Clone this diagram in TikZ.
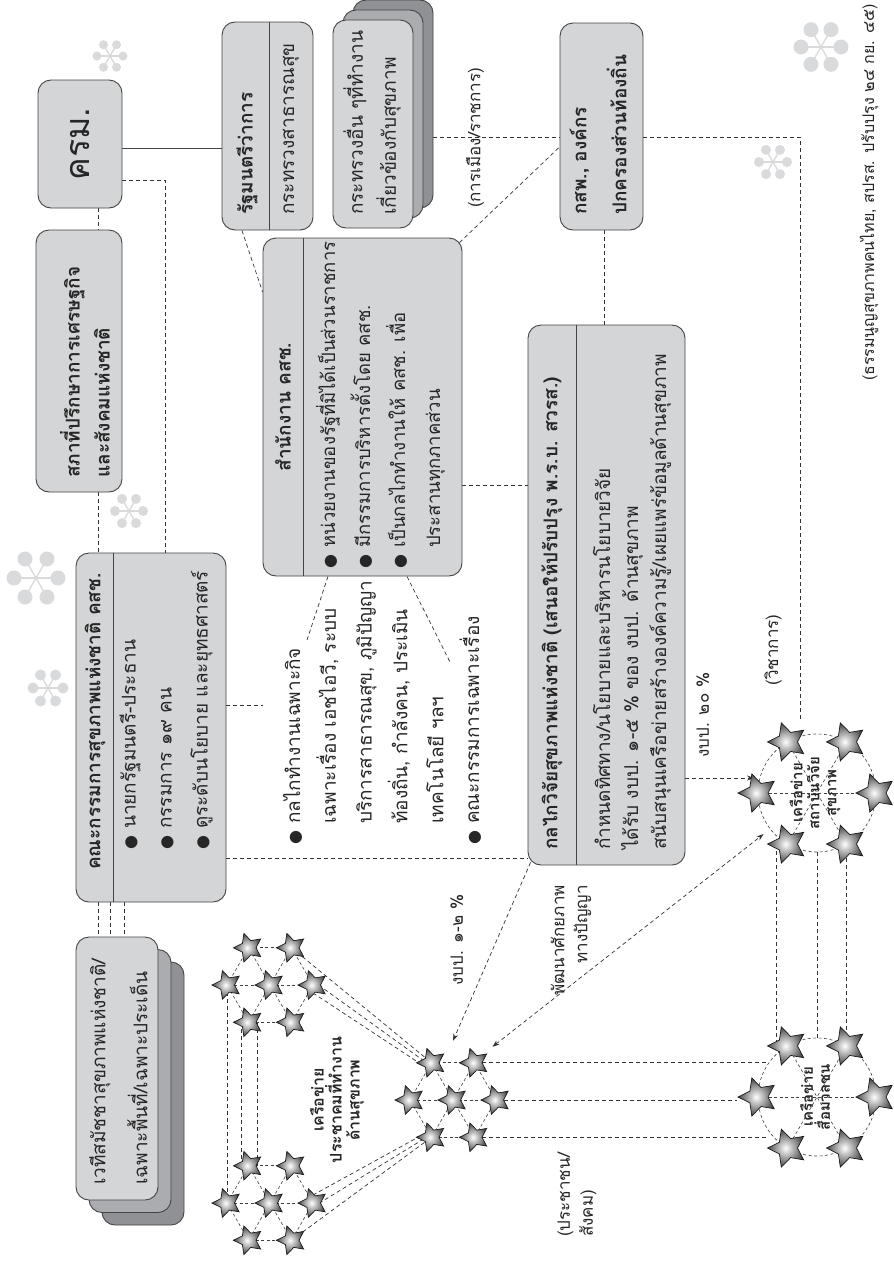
\documentclass[tikz,border=0pt]{standalone}
\usepackage{fontspec}
\setmainfont{Loma}[Script=Thai]
\newfontfamily\dejavu{DejaVu Sans}
\usetikzlibrary{shapes.geometric,arrows.meta,calc,backgrounds}
\definecolor{boxgray}{HTML}{D4D5D7}
\definecolor{shadeA}{HTML}{ABACB0}
\definecolor{shadeB}{HTML}{909195}
\definecolor{deco}{HTML}{D9DADC}
\definecolor{ink}{HTML}{444444}
\newcommand\bul{\makebox[21pt][l]{\dejavu\fontsize{16}{16}\selectfont ●}}
\newcommand\ind{\hspace*{21pt}}
\begin{document}
\begin{tikzpicture}[x=1pt,y=-1pt,
  box/.style={rounded corners=13pt, draw=ink, line width=0.9pt, fill=boxgray, rotate=90, inner sep=0pt},
  txt/.style={rotate=90, inner sep=0pt, text=black!85, font=\fontsize{19}{35}\selectfont},
  bld/.style={txt, font=\bfseries\fontsize{19}{35}\selectfont},
  dsh/.style={draw=black!80, line width=0.7pt, dash pattern=on 4pt off 3pt},
  netl/.style={draw=black!75, line width=0.6pt, dash pattern=on 3pt off 2.5pt},
  arr/.style={-{Stealth[length=7pt,width=5pt]}},
  darr/.style={{Stealth[length=7pt,width=5pt]}-{Stealth[length=7pt,width=5pt]}},
  starS/.style={star, star points=5, star point ratio=2.0, minimum size=30pt, inner sep=0pt, draw=black!90, line width=0.7pt, rotate=90, inner color=white, outer color=black!72},
  starL/.style={starS, minimum size=40pt},
  sepl/.style={draw=ink, line width=0.8pt},
]
\begin{scope}[on background layer]
\fill[white] (0,0) rectangle (894,1261);
\end{scope}
\useasboundingbox (0,0) rectangle (894,1261);

% decorative asterisks
\foreach \cx/\cy/\ar/\dr in {110/56/13/4.5, 36/578/22/7.5, 48/688/15/5.5, 129/511/14/5, 821/47/20/7.5, 773/162/14/5}{
  \foreach \ang in {0,60,...,300}{
    \draw[deco, line width=1.3pt] (\cx,\cy) -- ++(\ang:\ar);
    \fill[deco] (\cx,\cy) ++(\ang:\ar) circle[radius=\dr pt];
  }
}

% boxes
\node[box, minimum width=128pt, minimum height=84pt, text=black!85, font=\fontsize{34}{40}\selectfont] (krm) at (80,144) {ครม.};

\node[box, minimum width=262pt, minimum height=86pt] (sapha) at (79,361) {};
\node[bld, anchor=west, align=left, font=\bfseries\fontsize{19}{30}\selectfont] (saphat) at (85,478) {สภาที่ปรึกษาการเศรษฐกิจ\\และสังคมแห่งชาติ};

\node[box, minimum width=349pt, minimum height=150pt] (ksc) at (151,727.5) {};
\draw[sepl] (113,0 |- ksc.east) -- (113,0 |- ksc.west);
\node[bld, anchor=west] (ksch) at (95,870) {คณะกรรมการสุขภาพแห่งชาติ คสช.};
\node[txt, anchor=west, align=left, font=\fontsize{19}{36}\selectfont] (kscb) at (166,850) {\bul นายกรัฐมนตรี-ประธาน\\\bul กรรมการ ๑๙ คน\\\bul ดูระดับนโยบาย และยุทธศาสตร์};

\node[box, fill=shadeB, minimum width=263pt, minimum height=82pt] (forum3) at (143,1093.5) {};
\node[box, fill=shadeA, minimum width=263pt, minimum height=82pt] (forum2) at (130,1081) {};
\node[box, minimum width=263pt, minimum height=82pt] (forum) at (117,1068.5) {};
\node[txt, anchor=west, align=left, font=\fontsize{19}{42}\selectfont] (forumt) at (118.5,1185) {เวทีสมัชชาสุขภาพแห่งชาติ/\\เฉพาะพื้นที่/เฉพาะประเด็น};

\node[box, minimum width=208pt, minimum height=91pt] (rmt) at (267.5,126) {};
\draw[sepl] (269,0 |- rmt.east) -- (269,0 |- rmt.west);
\node[bld, anchor=west] (rmth) at (247,215) {รัฐมนตรีว่าการ};
\node[txt, anchor=west] (rmtb) at (291,215) {กระทรวงสาธารณสุข};

\node[box, fill=shadeB, minimum width=208pt, minimum height=80pt] (other3) at (393,104) {};
\node[box, fill=shadeA, minimum width=208pt, minimum height=80pt] (other2) at (383,114) {};
\node[box, minimum width=208pt, minimum height=80pt] (other) at (373,124) {};
\node[txt, anchor=west, align=left, font=\fontsize{19}{33}\selectfont] (othert) at (372,215) {กระทรวงอื่น ๆที่ทำงาน\\เกี่ยวข้องกับสุขภาพ};

\node[box, minimum width=338pt, minimum height=199pt] (office) at (362.5,407) {};
\draw[sepl] (303,0 |- office.east) -- (303,0 |- office.west);
\node[bld] (officeh) at (283,407) {สำนักงาน คสช.};
\node[txt, anchor=west, align=left, font=\fontsize{18.5}{35}\selectfont] (officeb) at (380.5,569) {\bul หน่วยงานของรัฐที่มิได้เป็นส่วนราชการ\\\bul มีกรรมการบริหารตั้งโดย คสช.\\\bul เป็นกลไกทำงานให้ คสช. เพื่อ\\\ind ประสานทุกภาคส่วน};

\node[box, minimum width=207pt, minimum height=83pt] (ksp) at (601.5,126.5) {};
\node[bld, anchor=west, align=left, font=\bfseries\fontsize{19}{40}\selectfont] (kspt) at (598,215) {กสพ., องค์กร\\ปกครองส่วนท้องถิ่น};

\node[box, minimum width=540pt, minimum height=157pt] (res) at (606.5,595) {};
\draw[sepl] (576,0 |- res.east) -- (576,0 |- res.west);
\node[bld, anchor=west] (resh) at (552,850) {กลไกวิจัยสุขภาพแห่งชาติ (เสนอให้ปรับปรุง พ.ร.บ. สวรส.)};
\node[txt, anchor=west, align=left, font=\fontsize{19}{28}\selectfont] (resb) at (632,850) {กำหนดทิศทาง/นโยบายและบริหารนโยบายวิจัย\\ได้รับ งบป. ๑-๕ \% ของ งบป. ด้านสุขภาพ\\สนับสนุนเครือข่ายสร้างองค์ความรู้/เผยแพร่ข้อมูลด้านสุขภาพ};

\node[txt, anchor=west, align=left, font=\fontsize{19}{35.8}\selectfont] (adhoc) at (382,845) {\bul กลไกทำงานเฉพาะกิจ\\\ind เฉพาะเรื่อง เอชไอวี, ระบบ\\\ind บริการสาธารณสุข, ภูมิปัญญา\\\ind ท้องถิ่น, กำลังคน, ประเมิน\\\ind เทคโนโลยี ฯลฯ\\\bul คณะกรรมการเฉพาะเรื่อง};

% hex networks A, B, C
\foreach \p/\cx/\cy in {a/453/1100, b/270/985, c/270/1203} {
  \coordinate (\p0) at (\cx,\cy);
  \foreach \ii/\ang in {1/0,2/60,3/120,4/180,5/240,6/300} { \coordinate (\p\ii) at ($(\p0)+(\ang:43)$); }
  \foreach \ii/\jj in {1/2,2/3,3/4,4/5,5/6,6/1} { \draw[netl] (\p\ii) -- (\p\jj); \draw[netl] (\p0) -- (\p\ii); }
  \foreach \ii in {0,...,6} { \node[starS] (s\p\ii) at (\p\ii) {}; }
}
% ring networks D, E
\foreach \p/\cx/\cy in {d/817/793, e/817/1097} {
  \coordinate (\p0) at (\cx,\cy);
  \foreach \ii/\ang in {1/0,2/60,3/120,4/180,5/240,6/300} { \coordinate (\p\ii) at ($(\p0)+(\ang:59)$); }
  \node[circle, netl, minimum size=118pt, inner sep=0pt] (\p circ) at (\p0) {};
  \draw[netl] (\p1) -- (\p4);
  \draw[netl] (\p2) -- (\p5);
  \draw[netl] (\p3) -- (\p6);
  \foreach \ii in {1,...,6} { \node[starL] (s\p\ii) at (\p\ii) {}; }
}
\node[bld, align=center, font=\bfseries\fontsize{15}{17}\selectfont] (dlab) at (815,793) {เครือข่าย\\สถาบันวิจัย\\สุขภาพ};
\node[bld, align=center, font=\bfseries\fontsize{15}{17}\selectfont] (elab) at (815,1097) {เครือข่าย\\สื่อมวลชน};
\node[bld, align=center, font=\bfseries\fontsize{16}{18}\selectfont] (alab) at (337,1100) {เครือข่าย\\ประชาคมที่ทำงาน\\ด้านสุขภาพ};

% labels
\node[txt, font=\fontsize{17}{20}\selectfont] (lpol) at (475,138) {(การเมือง/ราชการ)};
\node[txt, font=\fontsize{17}{20}\selectfont] (lacad) at (773,650) {(วิชาการ)};
\node[txt, font=\fontsize{17}{20}\selectfont] (l20) at (703,715) {งบป. ๒๐ \%};
\node[txt, font=\fontsize{17}{20}\selectfont] (l12) at (457,940) {งบป. ๑-๒ \%};
\node[txt, anchor=east, align=right, font=\fontsize{17}{23}\selectfont] (ldev) at (571,885) {พัฒนาศักยภาพ\\ทางปัญญา};
\node[txt, anchor=west, align=left, font=\fontsize{17}{23}\selectfont] (lpub) at (577,1237) {(ประชาชน/\\สังคม)};
\node[txt, anchor=east, font=\fontsize{16}{20}\selectfont] (src) at (869,4) {(ธรรมนูญสุขภาพคนไทย, สปรส. ปรับปรุง ๒๔ กย. ๔๕)};

% connectors
\coordinate (kend) at (800,719);
\coordinate (lend) at (263,705);
\coordinate (n1) at (307,640);
\coordinate (n2) at (450,662);
\coordinate (ptip) at ($(sd4)+(-4,-15)$);
\begin{scope}[on background layer]
\draw[draw=ink, line width=0.9pt] (krm.south |- 0,148) -- (rmt.north |- 0,148);
\draw[dsh] (98,0 |- krm.west) -- (98,0 |- sapha.east);
\draw[dsh] (krm.south |- 0,180) -| (165,0 |- ksc.east);
\draw[dsh] (98,0 |- sapha.west) -- (98,0 |- ksc.east);
\foreach \xx in {98,110,124} { \draw[dsh] (\xx,0 |- ksc.west) -- (\xx,0 |- forum.east); }
\draw[dsh] (242,0 |- rmt.west) -- (office.north |- 0,292);
\draw[dsh] (other3.south |- 0,137) -- (ksp.north |- 0,137);
\draw[dsh] ($(office.south east)+(-3,5)$) -- (ksp.north |- 0,147);
\draw[dsh] (office.south |- 0,485) -- (res.north |- 0,485);
\draw[dsh] (604,0 |- ksp.west) -- (604,0 |- res.east);
\draw[dsh] (ksp.south |- 0,137) -| (kend);
\draw[dsh] (ksc.south |- 0,705) -- (lend);
\draw[dsh] (ksc.south |- 0,858) -- (res.north |- 0,858);
\draw[dsh] (328,0 |- office.west) -- (n1);
\draw[dsh] (407,0 |- office.west) -- (n2);
\draw[dsh, arr] ($(res.north west)+(3,-3)$) -- ($(sa5)!0.5!(sa6)+(0,-22)$);
\draw[dsh, arr] (res.south |- ptip) -- (ptip);
\draw[dsh, darr] ($(sa6)+(18,-16)$) -- ($(sd3)+(-24,-10)$);
\draw[dsh] (sa6) -- (sa6 -| se5.north);
\draw[dsh] (sa1) -- (sa1 -| se4.north);
\draw[dsh] (sa2) -- (sa2 -| se3.north);
\draw[dsh] ([xshift=-11pt]sd3.center) -- ([xshift=-11pt]se5.center);
\draw[dsh] (dcirc.south) -- (ecirc.north);
\draw[dsh] (sd2.center) -- (se6.center);
\draw[dsh] (sb6.center) -- (sa5.center);
\draw[dsh] ([yshift=4pt]sb1.center) -- ([xshift=-5pt]sa5.center);
\draw[dsh] ([yshift=-8pt]sb1.center) -- ([xshift=-8pt,yshift=-3pt]sa5.center);
\draw[dsh] (sc2.center) -- (sa3.center);
\draw[dsh] ([yshift=-4pt]sc1.center) -- ([xshift=-5pt]sa3.center);
\draw[dsh] ([yshift=8pt]sc1.center) -- ([xshift=-8pt,yshift=3pt]sa3.center);
\draw[dsh] (sb4.center) -- (sc4.center);
\draw[dsh] ([xshift=-7pt]sb3.center) -- ([xshift=-7pt]sc5.center);
\draw[dsh] ([xshift=9pt]sb3.center) -- ([xshift=9pt]sc5.center);
\end{scope}
\end{tikzpicture}
\end{document}
